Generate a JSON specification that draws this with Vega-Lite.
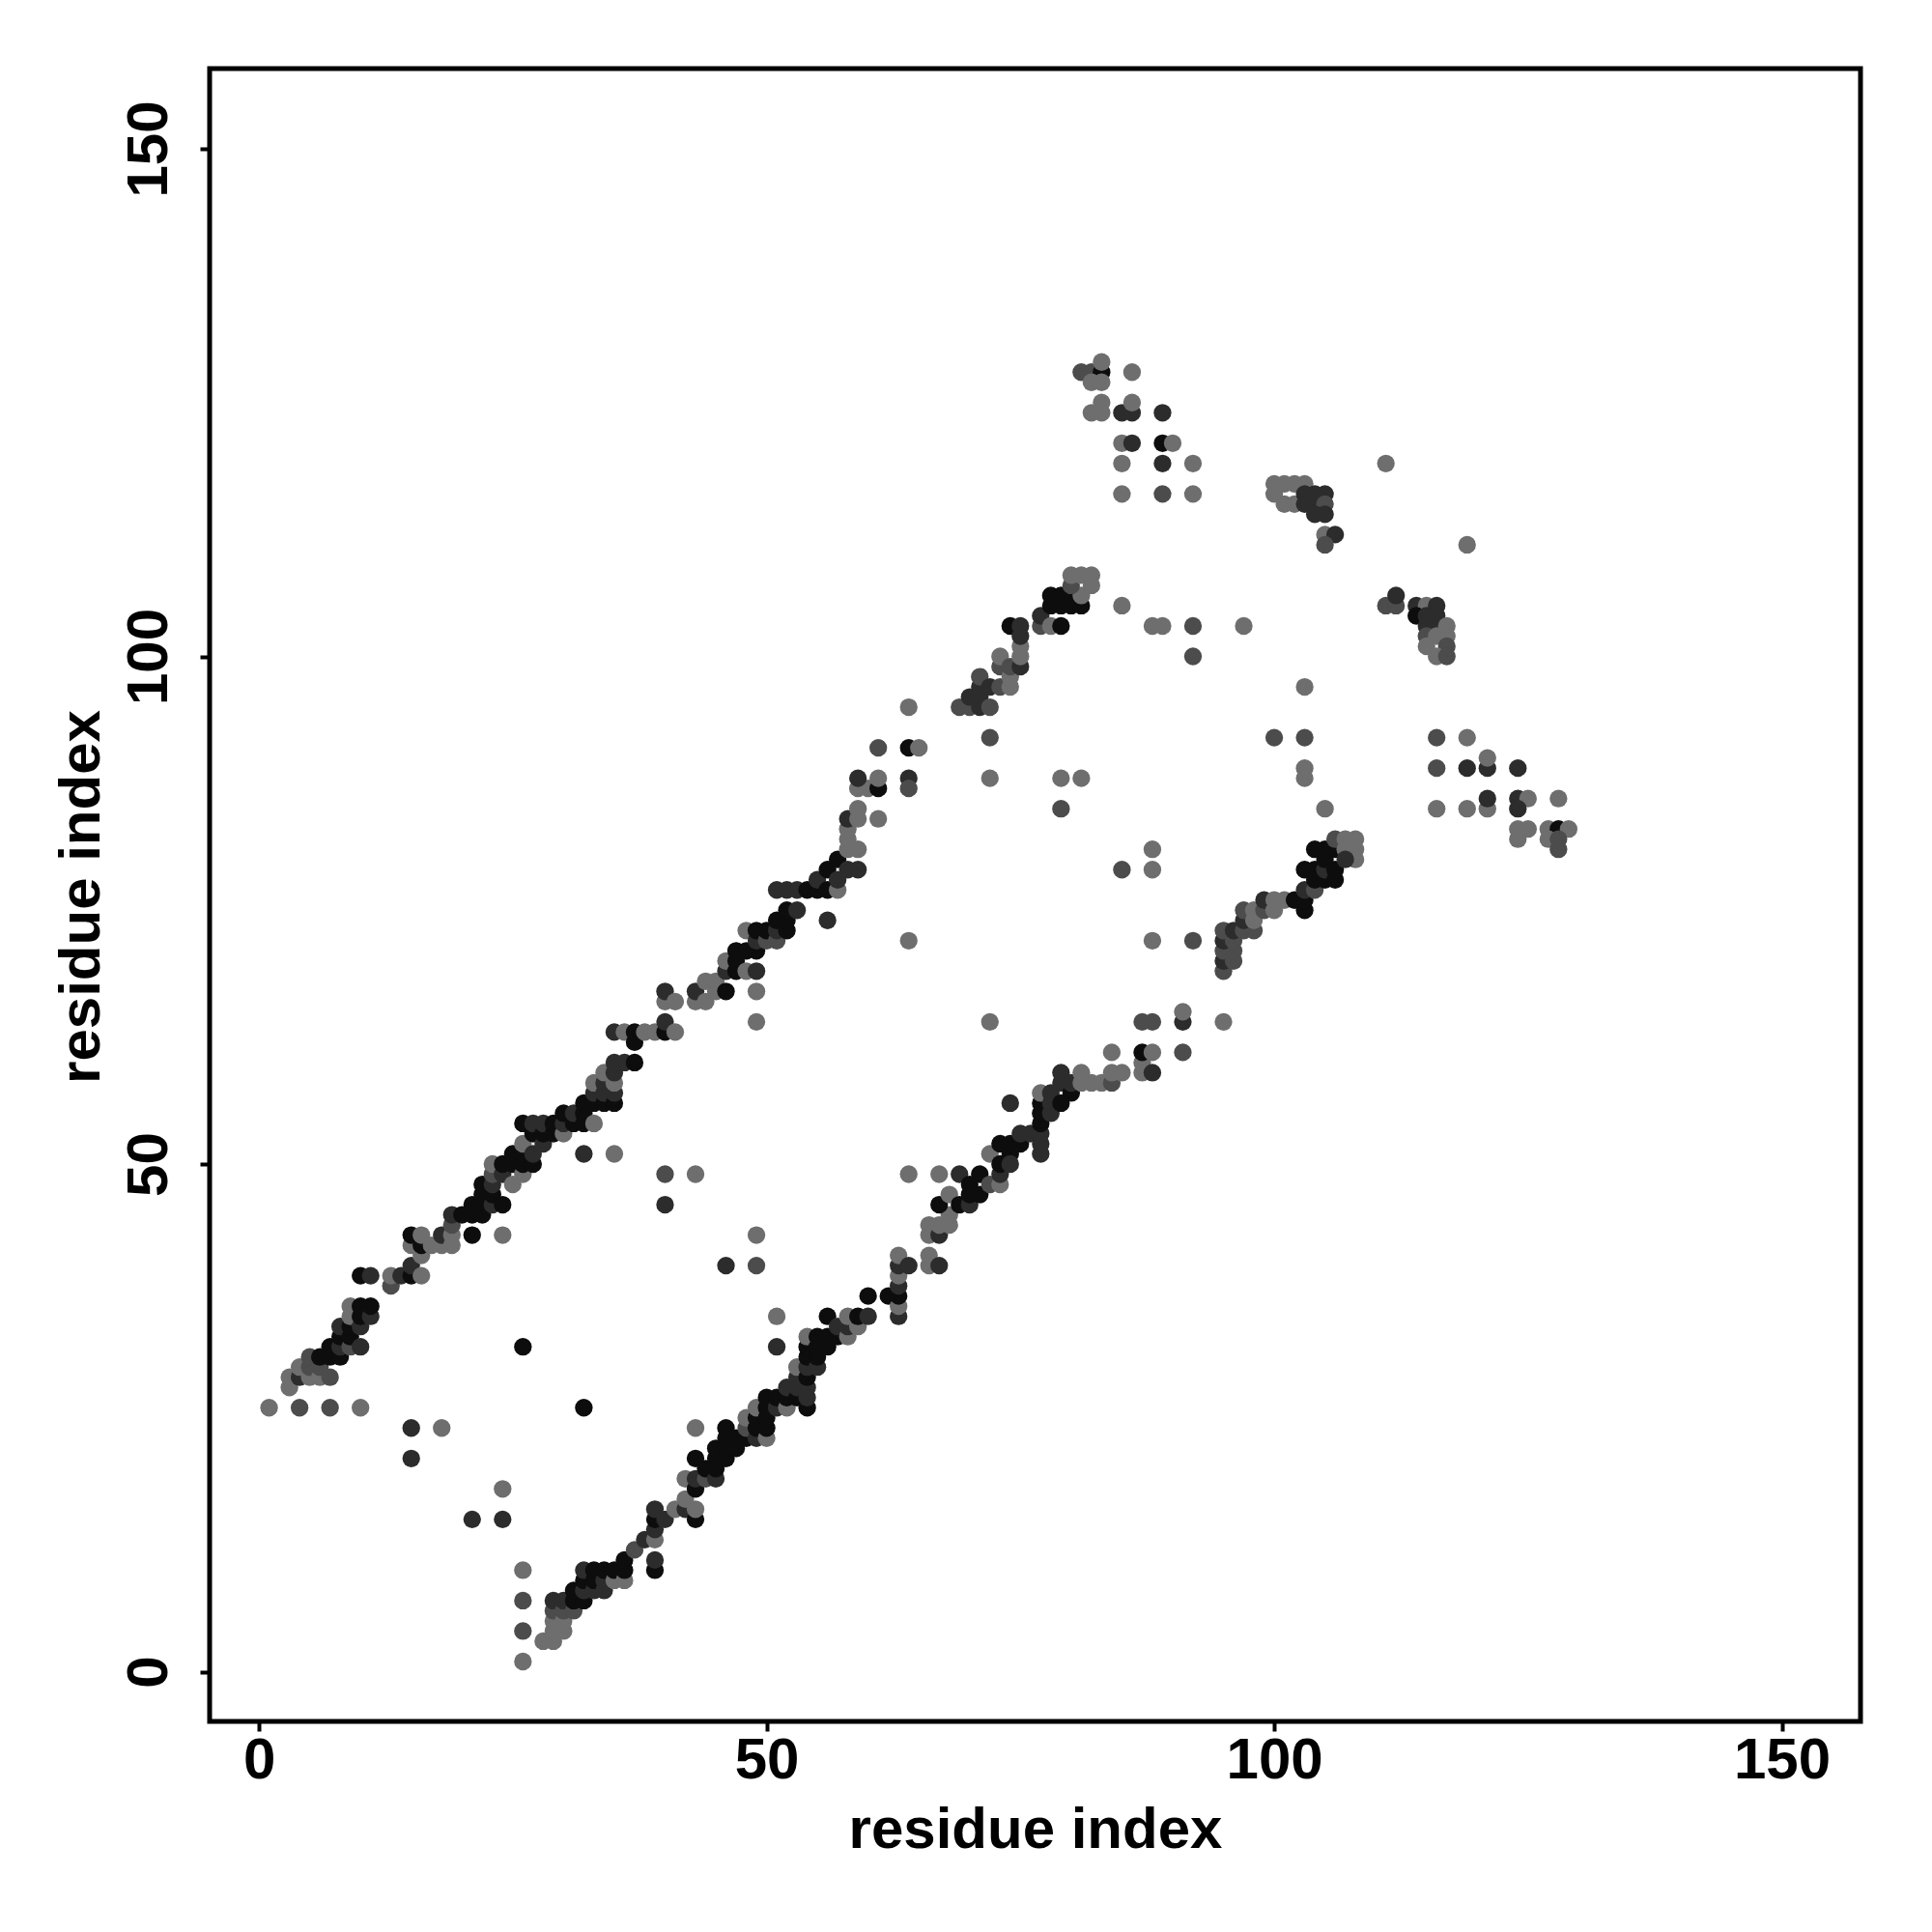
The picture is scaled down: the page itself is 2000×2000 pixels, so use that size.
{
"$schema":"https://vega.github.io/schema/vega-lite/v6.json",
"width":1709,"height":1711,
"autosize":{"type":"none"},
"padding":{"left":217,"top":71,"right":74,"bottom":218},
"background":"white",
"config":{"view":{"stroke":"black","strokeWidth":5}},
"data":{"values":[
{"i":1,"j":26,"p":0.35},{"i":4,"j":26,"p":0.55},{"i":7,"j":26,"p":0.55},{"i":10,"j":26,"p":0.35},{"i":15,"j":24,"p":0.75},{"i":18,"j":24,"p":0.35},{"i":15,"j":21,"p":0.75},{"i":24,"j":18,"p":0.35},{"i":21,"j":15,"p":0.75},{"i":24,"j":15,"p":0.75},{"i":26,"j":32,"p":0.95},{"i":32,"j":26,"p":0.95},{"i":26,"j":10,"p":0.35},{"i":26,"j":7,"p":0.55},{"i":26,"j":4,"p":0.55},{"i":26,"j":1,"p":0.35},
{"i":3,"j":28,"p":0.35},{"i":3,"j":29,"p":0.35},{"i":4,"j":29,"p":0.75},{"i":4,"j":30,"p":0.35},{"i":5,"j":29,"p":0.35},{"i":5,"j":30,"p":0.55},{"i":5,"j":31,"p":0.55},{"i":6,"j":29,"p":0.35},{"i":6,"j":30,"p":0.55},{"i":6,"j":31,"p":0.95},{"i":7,"j":29,"p":0.55},{"i":7,"j":31,"p":0.95},{"i":7,"j":32,"p":0.95},{"i":8,"j":31,"p":0.95},{"i":8,"j":32,"p":0.75},{"i":8,"j":33,"p":0.95},{"i":8,"j":34,"p":0.75},{"i":9,"j":32,"p":0.55},{"i":9,"j":33,"p":0.95},{"i":9,"j":34,"p":0.95},{"i":9,"j":35,"p":0.35},{"i":9,"j":36,"p":0.35},{"i":10,"j":32,"p":0.75},{"i":10,"j":34,"p":0.75},{"i":10,"j":35,"p":0.95},{"i":10,"j":36,"p":0.95},{"i":11,"j":35,"p":0.75},{"i":11,"j":36,"p":0.95},
{"i":10,"j":39,"p":0.95},{"i":11,"j":39,"p":0.75},{"i":13,"j":38,"p":0.55},{"i":13,"j":39,"p":0.35},{"i":14,"j":39,"p":0.75},{"i":15,"j":39,"p":0.95},{"i":15,"j":40,"p":0.75},{"i":16,"j":39,"p":0.35},
{"i":15,"j":42,"p":0.35},{"i":15,"j":43,"p":0.95},{"i":16,"j":41,"p":0.35},{"i":16,"j":42,"p":0.95},{"i":16,"j":43,"p":0.35},{"i":17,"j":42,"p":0.35},{"i":18,"j":42,"p":0.35},{"i":18,"j":43,"p":0.75},{"i":19,"j":42,"p":0.35},{"i":19,"j":43,"p":0.35},{"i":19,"j":44,"p":0.55},{"i":19,"j":45,"p":0.75},{"i":20,"j":45,"p":0.95},{"i":21,"j":45,"p":0.95},{"i":21,"j":46,"p":0.95},{"i":22,"j":45,"p":0.95},{"i":22,"j":46,"p":0.95},{"i":22,"j":47,"p":0.95},{"i":22,"j":48,"p":0.95},{"i":23,"j":46,"p":0.75},{"i":23,"j":47,"p":0.95},{"i":23,"j":48,"p":0.75},{"i":23,"j":49,"p":0.55},{"i":23,"j":50,"p":0.35},{"i":24,"j":46,"p":0.95},{"i":24,"j":49,"p":0.75},{"i":24,"j":50,"p":0.95},{"i":25,"j":48,"p":0.35},{"i":25,"j":50,"p":0.95},{"i":25,"j":51,"p":0.95},{"i":26,"j":49,"p":0.35},{"i":26,"j":50,"p":0.95},{"i":26,"j":51,"p":0.95},{"i":26,"j":52,"p":0.35},{"i":26,"j":54,"p":0.95},{"i":27,"j":50,"p":0.95},{"i":27,"j":51,"p":0.75},{"i":27,"j":53,"p":0.95},{"i":27,"j":54,"p":0.75},{"i":28,"j":52,"p":0.75},{"i":28,"j":53,"p":0.95},{"i":28,"j":54,"p":0.75},{"i":29,"j":53,"p":0.95},{"i":29,"j":54,"p":0.95},{"i":30,"j":53,"p":0.35},{"i":30,"j":54,"p":0.75},{"i":30,"j":55,"p":0.95},{"i":31,"j":54,"p":0.95},{"i":31,"j":55,"p":0.75},{"i":32,"j":54,"p":0.95},{"i":32,"j":55,"p":0.95},{"i":32,"j":56,"p":0.95},{"i":33,"j":54,"p":0.35},{"i":33,"j":56,"p":0.95},{"i":33,"j":57,"p":0.75},{"i":33,"j":58,"p":0.35},{"i":34,"j":56,"p":0.95},{"i":34,"j":57,"p":0.75},{"i":34,"j":58,"p":0.75},{"i":34,"j":59,"p":0.35},{"i":35,"j":56,"p":0.95},{"i":35,"j":57,"p":0.75},{"i":35,"j":58,"p":0.35},{"i":35,"j":59,"p":0.75},{"i":35,"j":60,"p":0.75},{"i":35,"j":63,"p":0.75},{"i":36,"j":60,"p":0.75},{"i":36,"j":63,"p":0.35},{"i":37,"j":60,"p":0.95},{"i":37,"j":62,"p":0.95},{"i":37,"j":63,"p":0.95},{"i":38,"j":63,"p":0.35},{"i":39,"j":63,"p":0.35},{"i":40,"j":63,"p":0.95},{"i":40,"j":64,"p":0.75},{"i":41,"j":63,"p":0.35},
{"i":21,"j":43,"p":0.95},{"i":24,"j":43,"p":0.35},{"i":32,"j":51,"p":0.75},{"i":35,"j":51,"p":0.35},
{"i":40,"j":66,"p":0.35},{"i":40,"j":67,"p":0.75},{"i":41,"j":66,"p":0.35},{"i":43,"j":66,"p":0.35},{"i":43,"j":67,"p":0.75},{"i":44,"j":66,"p":0.35},{"i":44,"j":68,"p":0.35},{"i":45,"j":67,"p":0.35},{"i":45,"j":68,"p":0.35},{"i":46,"j":67,"p":0.95},{"i":46,"j":69,"p":0.75},{"i":46,"j":70,"p":0.35},{"i":47,"j":69,"p":0.95},{"i":47,"j":70,"p":0.95},{"i":47,"j":71,"p":0.95},{"i":48,"j":69,"p":0.35},{"i":48,"j":71,"p":0.95},{"i":49,"j":69,"p":0.75},{"i":49,"j":71,"p":0.95},{"i":48,"j":73,"p":0.35},{"i":49,"j":72,"p":0.75},{"i":49,"j":73,"p":0.95},{"i":50,"j":72,"p":0.55},{"i":50,"j":73,"p":0.95},{"i":51,"j":72,"p":0.55},{"i":51,"j":73,"p":0.75},{"i":51,"j":74,"p":0.95},{"i":52,"j":73,"p":0.95},{"i":52,"j":74,"p":0.95},{"i":52,"j":75,"p":0.95},{"i":53,"j":75,"p":0.75},{"i":51,"j":77,"p":0.75},{"i":52,"j":77,"p":0.75},{"i":53,"j":77,"p":0.75},{"i":54,"j":77,"p":0.95},{"i":55,"j":77,"p":0.95},{"i":55,"j":78,"p":0.75},{"i":56,"j":77,"p":0.95},{"i":56,"j":79,"p":0.95},{"i":57,"j":77,"p":0.35},{"i":57,"j":78,"p":0.75},{"i":57,"j":80,"p":0.95},{"i":58,"j":79,"p":0.75},{"i":59,"j":79,"p":0.75},{"i":58,"j":81,"p":0.35},{"i":59,"j":81,"p":0.35},{"i":58,"j":82,"p":0.35},{"i":58,"j":83,"p":0.35},{"i":58,"j":84,"p":0.75},{"i":59,"j":84,"p":0.35},{"i":59,"j":85,"p":0.35},{"i":59,"j":87,"p":0.35},{"i":60,"j":87,"p":0.35},{"i":61,"j":87,"p":0.95},{"i":59,"j":88,"p":0.75},{"i":61,"j":88,"p":0.35},
{"i":49,"j":67,"p":0.35},{"i":49,"j":64,"p":0.35},{"i":43,"j":49,"p":0.35},{"i":40,"j":49,"p":0.55},{"i":40,"j":46,"p":0.75},{"i":49,"j":43,"p":0.35},{"i":46,"j":40,"p":0.75},{"i":49,"j":40,"p":0.55},{"i":64,"j":49,"p":0.35},{"i":67,"j":49,"p":0.35},
{"i":64,"j":95,"p":0.35},{"i":61,"j":91,"p":0.55},{"i":64,"j":91,"p":0.95},{"i":65,"j":91,"p":0.35},{"i":64,"j":88,"p":0.75},{"i":64,"j":87,"p":0.55},{"i":61,"j":84,"p":0.35},{"i":64,"j":72,"p":0.35},{"i":56,"j":74,"p":0.75},
{"i":69,"j":95,"p":0.55},{"i":70,"j":95,"p":0.55},{"i":70,"j":96,"p":0.75},{"i":71,"j":95,"p":0.75},{"i":71,"j":96,"p":0.75},{"i":71,"j":97,"p":0.75},{"i":71,"j":98,"p":0.55},{"i":72,"j":95,"p":0.55},{"i":72,"j":97,"p":0.75},{"i":73,"j":97,"p":0.55},{"i":73,"j":99,"p":0.55},{"i":73,"j":100,"p":0.35},{"i":74,"j":97,"p":0.35},{"i":74,"j":98,"p":0.35},{"i":74,"j":99,"p":0.55},{"i":74,"j":103,"p":0.95},{"i":75,"j":99,"p":0.75},{"i":75,"j":100,"p":0.35},{"i":75,"j":101,"p":0.35},{"i":75,"j":102,"p":0.75},{"i":75,"j":103,"p":0.75},{"i":77,"j":103,"p":0.55},{"i":77,"j":104,"p":0.75},{"i":78,"j":103,"p":0.35},{"i":79,"j":103,"p":0.95},{"i":78,"j":105,"p":0.95},{"i":79,"j":105,"p":0.95},{"i":80,"j":105,"p":0.95},{"i":81,"j":105,"p":0.95},{"i":78,"j":106,"p":0.95},{"i":79,"j":106,"p":0.95},{"i":80,"j":106,"p":0.95},{"i":81,"j":106,"p":0.35},{"i":80,"j":107,"p":0.55},{"i":80,"j":108,"p":0.35},{"i":81,"j":108,"p":0.35},{"i":82,"j":108,"p":0.35},{"i":82,"j":107,"p":0.35},
{"i":72,"j":92,"p":0.55},{"i":72,"j":88,"p":0.35},{"i":79,"j":88,"p":0.35},{"i":81,"j":88,"p":0.35},{"i":79,"j":85,"p":0.55},{"i":85,"j":105,"p":0.35},{"i":88,"j":103,"p":0.35},{"i":89,"j":103,"p":0.35},{"i":92,"j":103,"p":0.55},{"i":97,"j":103,"p":0.35},{"i":92,"j":100,"p":0.55},{"i":103,"j":97,"p":0.35},{"i":100,"j":92,"p":0.55},{"i":103,"j":92,"p":0.55},{"i":103,"j":89,"p":0.35},{"i":103,"j":88,"p":0.35},{"i":105,"j":85,"p":0.35},{"i":88,"j":81,"p":0.35},{"i":85,"j":79,"p":0.55},{"i":88,"j":79,"p":0.35},{"i":88,"j":72,"p":0.35},{"i":92,"j":72,"p":0.55},
{"i":28,"j":3,"p":0.35},{"i":29,"j":3,"p":0.35},{"i":29,"j":4,"p":0.35},{"i":29,"j":5,"p":0.35},{"i":29,"j":6,"p":0.55},{"i":29,"j":7,"p":0.75},{"i":30,"j":4,"p":0.35},{"i":30,"j":5,"p":0.35},{"i":30,"j":6,"p":0.55},{"i":30,"j":7,"p":0.75},{"i":31,"j":6,"p":0.55},{"i":31,"j":7,"p":0.95},{"i":31,"j":8,"p":0.95},{"i":32,"j":7,"p":0.95},{"i":32,"j":8,"p":0.75},{"i":32,"j":9,"p":0.95},{"i":32,"j":10,"p":0.75},{"i":33,"j":8,"p":0.75},{"i":33,"j":9,"p":0.95},{"i":33,"j":10,"p":0.95},{"i":34,"j":8,"p":0.75},{"i":34,"j":9,"p":0.75},{"i":34,"j":10,"p":0.95},{"i":35,"j":9,"p":0.35},{"i":35,"j":10,"p":0.95},{"i":36,"j":9,"p":0.35},{"i":36,"j":10,"p":0.95},{"i":36,"j":11,"p":0.95},{"i":37,"j":12,"p":0.55},{"i":38,"j":13,"p":0.75},{"i":39,"j":10,"p":0.95},{"i":39,"j":11,"p":0.75},{"i":39,"j":13,"p":0.35},{"i":39,"j":14,"p":0.75},{"i":39,"j":15,"p":0.95},{"i":39,"j":16,"p":0.75},{"i":40,"j":15,"p":0.75},{"i":41,"j":16,"p":0.35},{"i":42,"j":16,"p":0.75},{"i":42,"j":17,"p":0.35},{"i":42,"j":19,"p":0.35},{"i":43,"j":15,"p":0.95},{"i":43,"j":16,"p":0.35},{"i":43,"j":18,"p":0.95},{"i":43,"j":19,"p":0.75},{"i":43,"j":21,"p":0.95},{"i":43,"j":24,"p":0.35},{"i":44,"j":19,"p":0.55},{"i":44,"j":20,"p":0.95},{"i":45,"j":19,"p":0.75},{"i":45,"j":20,"p":0.95},{"i":45,"j":21,"p":0.95},{"i":45,"j":22,"p":0.95},{"i":46,"j":21,"p":0.95},{"i":46,"j":22,"p":0.95},{"i":46,"j":23,"p":0.95},{"i":46,"j":24,"p":0.95},{"i":47,"j":22,"p":0.95},{"i":47,"j":23,"p":0.95},{"i":48,"j":23,"p":0.95},{"i":48,"j":24,"p":0.55},{"i":48,"j":25,"p":0.35},{"i":49,"j":23,"p":0.75},{"i":49,"j":24,"p":0.95},{"i":49,"j":25,"p":0.95},{"i":49,"j":26,"p":0.35},{"i":50,"j":23,"p":0.35},{"i":50,"j":24,"p":0.95},{"i":50,"j":25,"p":0.95},{"i":50,"j":26,"p":0.95},{"i":50,"j":27,"p":0.95},{"i":51,"j":26,"p":0.75},{"i":51,"j":27,"p":0.95},{"i":52,"j":26,"p":0.35},{"i":52,"j":27,"p":0.95},{"i":52,"j":28,"p":0.75},{"i":53,"j":27,"p":0.95},{"i":53,"j":28,"p":0.75},{"i":53,"j":29,"p":0.75},{"i":53,"j":30,"p":0.35},{"i":54,"j":26,"p":0.95},{"i":54,"j":27,"p":0.75},{"i":54,"j":28,"p":0.75},{"i":54,"j":29,"p":0.95},{"i":54,"j":30,"p":0.75},{"i":54,"j":31,"p":0.95},{"i":54,"j":32,"p":0.95},{"i":54,"j":33,"p":0.35},{"i":55,"j":30,"p":0.75},{"i":55,"j":31,"p":0.95},{"i":55,"j":32,"p":0.95},{"i":55,"j":33,"p":0.95},{"i":56,"j":32,"p":0.95},{"i":56,"j":33,"p":0.95},{"i":56,"j":35,"p":0.95},{"i":57,"j":33,"p":0.95},{"i":57,"j":34,"p":0.75},{"i":58,"j":33,"p":0.35},{"i":58,"j":34,"p":0.75},{"i":58,"j":35,"p":0.35},{"i":59,"j":34,"p":0.35},{"i":59,"j":35,"p":0.95},{"i":60,"j":35,"p":0.75},{"i":60,"j":37,"p":0.95},{"i":62,"j":37,"p":0.95},{"i":63,"j":35,"p":0.75},{"i":63,"j":36,"p":0.35},{"i":63,"j":37,"p":0.95},{"i":63,"j":38,"p":0.75},{"i":63,"j":39,"p":0.35},{"i":63,"j":40,"p":0.75},{"i":63,"j":41,"p":0.35},{"i":64,"j":40,"p":0.75},{"i":51,"j":35,"p":0.35},{"i":51,"j":32,"p":0.75},
{"i":66,"j":40,"p":0.35},{"i":66,"j":41,"p":0.35},{"i":67,"j":40,"p":0.75},{"i":66,"j":43,"p":0.35},{"i":66,"j":44,"p":0.35},{"i":67,"j":43,"p":0.75},{"i":67,"j":44,"p":0.35},{"i":68,"j":44,"p":0.35},{"i":68,"j":45,"p":0.35},{"i":67,"j":46,"p":0.95},{"i":68,"j":47,"p":0.35},{"i":69,"j":46,"p":0.95},{"i":70,"j":46,"p":0.75},{"i":70,"j":47,"p":0.95},{"i":69,"j":49,"p":0.75},{"i":71,"j":49,"p":0.95},{"i":70,"j":48,"p":0.95},{"i":71,"j":47,"p":0.95},{"i":72,"j":48,"p":0.55},{"i":72,"j":51,"p":0.35},{"i":73,"j":48,"p":0.35},{"i":73,"j":49,"p":0.75},{"i":73,"j":50,"p":0.95},{"i":73,"j":52,"p":0.95},{"i":74,"j":51,"p":0.95},{"i":74,"j":52,"p":0.95},{"i":75,"j":52,"p":0.95},{"i":75,"j":53,"p":0.75},{"i":76,"j":53,"p":0.75},{"i":74,"j":50,"p":0.75},
{"i":74,"j":56,"p":0.75},{"i":77,"j":51,"p":0.75},{"i":77,"j":52,"p":0.75},{"i":77,"j":53,"p":0.75},{"i":77,"j":54,"p":0.95},{"i":77,"j":55,"p":0.95},{"i":77,"j":56,"p":0.95},{"i":77,"j":57,"p":0.35},{"i":78,"j":55,"p":0.75},{"i":78,"j":56,"p":0.75},{"i":78,"j":57,"p":0.75},{"i":79,"j":56,"p":0.95},{"i":79,"j":58,"p":0.75},{"i":79,"j":59,"p":0.75},{"i":80,"j":57,"p":0.95},{"i":80,"j":58,"p":0.75},{"i":81,"j":58,"p":0.35},{"i":81,"j":59,"p":0.35},{"i":82,"j":58,"p":0.35},{"i":83,"j":58,"p":0.35},{"i":84,"j":58,"p":0.55},{"i":84,"j":59,"p":0.35},{"i":85,"j":59,"p":0.35},{"i":84,"j":61,"p":0.35},{"i":87,"j":59,"p":0.35},{"i":87,"j":60,"p":0.35},{"i":87,"j":61,"p":0.95},{"i":88,"j":61,"p":0.35},{"i":88,"j":59,"p":0.75},{"i":87,"j":64,"p":0.55},{"i":88,"j":64,"p":0.55},{"i":91,"j":64,"p":0.75},{"i":91,"j":65,"p":0.35},{"i":91,"j":61,"p":0.55},{"i":95,"j":64,"p":0.35},{"i":72,"j":64,"p":0.35},
{"i":95,"j":69,"p":0.55},{"i":95,"j":70,"p":0.75},{"i":96,"j":70,"p":0.55},{"i":95,"j":71,"p":0.55},{"i":96,"j":71,"p":0.55},{"i":95,"j":72,"p":0.75},{"i":96,"j":72,"p":0.55},{"i":95,"j":73,"p":0.55},{"i":96,"j":73,"p":0.75},{"i":97,"j":73,"p":0.55},{"i":98,"j":73,"p":0.55},{"i":97,"j":74,"p":0.75},{"i":97,"j":75,"p":0.55},{"i":98,"j":75,"p":0.35},{"i":98,"j":74,"p":0.35},{"i":99,"j":75,"p":0.55},{"i":99,"j":76,"p":0.75},{"i":100,"j":75,"p":0.35},{"i":100,"j":76,"p":0.35},{"i":101,"j":76,"p":0.35},{"i":102,"j":76,"p":0.95},{"i":103,"j":75,"p":0.95},{"i":103,"j":76,"p":0.95},{"i":103,"j":77,"p":0.75},{"i":104,"j":77,"p":0.55},{"i":103,"j":79,"p":0.95},{"i":104,"j":79,"p":0.95},{"i":104,"j":78,"p":0.95},{"i":105,"j":78,"p":0.95},{"i":105,"j":79,"p":0.75},{"i":106,"j":78,"p":0.95},{"i":106,"j":79,"p":0.95},{"i":105,"j":80,"p":0.95},{"i":105,"j":81,"p":0.95},{"i":106,"j":81,"p":0.95},{"i":104,"j":81,"p":0.95},{"i":106,"j":82,"p":0.55},{"i":107,"j":82,"p":0.35},{"i":108,"j":82,"p":0.35},{"i":107,"j":81,"p":0.35},{"i":108,"j":81,"p":0.35},{"i":108,"j":80,"p":0.35},{"i":107,"j":80,"p":0.75},
{"i":111,"j":105,"p":0.55},{"i":112,"j":105,"p":0.55},{"i":112,"j":106,"p":0.75},{"i":114,"j":105,"p":0.75},{"i":115,"j":105,"p":0.35},{"i":116,"j":105,"p":0.75},{"i":114,"j":104,"p":0.95},{"i":115,"j":104,"p":0.75},{"i":116,"j":104,"p":0.75},{"i":115,"j":103,"p":0.75},{"i":116,"j":103,"p":0.75},{"i":117,"j":103,"p":0.35},{"i":115,"j":102,"p":0.55},{"i":116,"j":102,"p":0.35},{"i":117,"j":102,"p":0.35},{"i":115,"j":101,"p":0.35},{"i":117,"j":101,"p":0.55},{"i":116,"j":100,"p":0.35},{"i":117,"j":100,"p":0.55},
{"i":116,"j":92,"p":0.55},{"i":119,"j":92,"p":0.35},{"i":116,"j":89,"p":0.55},{"i":119,"j":89,"p":0.75},{"i":121,"j":89,"p":0.75},{"i":121,"j":90,"p":0.35},{"i":124,"j":89,"p":0.75},{"i":116,"j":85,"p":0.35},{"i":119,"j":85,"p":0.35},{"i":121,"j":85,"p":0.35},{"i":121,"j":86,"p":0.75},{"i":124,"j":86,"p":0.75},{"i":125,"j":86,"p":0.35},{"i":124,"j":85,"p":0.75},{"i":128,"j":86,"p":0.35},{"i":124,"j":83,"p":0.35},{"i":125,"j":83,"p":0.35},{"i":124,"j":82,"p":0.35},{"i":127,"j":83,"p":0.35},{"i":128,"j":83,"p":0.95},{"i":129,"j":83,"p":0.35},{"i":127,"j":82,"p":0.35},{"i":128,"j":82,"p":0.55},{"i":128,"j":81,"p":0.55},
{"i":81,"j":128,"p":0.55},{"i":82,"j":128,"p":0.55},{"i":83,"j":128,"p":0.95},{"i":83,"j":129,"p":0.35},{"i":82,"j":127,"p":0.35},{"i":83,"j":127,"p":0.35},{"i":86,"j":128,"p":0.35},{"i":82,"j":124,"p":0.35},{"i":83,"j":125,"p":0.35},{"i":83,"j":124,"p":0.35},{"i":85,"j":124,"p":0.75},{"i":86,"j":124,"p":0.75},{"i":86,"j":125,"p":0.35},{"i":89,"j":124,"p":0.75},{"i":85,"j":121,"p":0.35},{"i":86,"j":121,"p":0.75},{"i":89,"j":121,"p":0.95},{"i":90,"j":121,"p":0.35},{"i":85,"j":119,"p":0.35},{"i":89,"j":119,"p":0.75},{"i":92,"j":119,"p":0.35},{"i":85,"j":116,"p":0.35},{"i":89,"j":116,"p":0.55},{"i":92,"j":116,"p":0.35},
{"i":100,"j":117,"p":0.35},{"i":101,"j":117,"p":0.35},{"i":102,"j":117,"p":0.35},{"i":103,"j":117,"p":0.35},{"i":100,"j":116,"p":0.35},{"i":101,"j":115,"p":0.35},{"i":102,"j":115,"p":0.35},{"i":103,"j":116,"p":0.75},{"i":104,"j":116,"p":0.75},{"i":105,"j":116,"p":0.75},{"i":103,"j":115,"p":0.75},{"i":104,"j":115,"p":0.75},{"i":105,"j":115,"p":0.55},{"i":104,"j":114,"p":0.75},{"i":105,"j":114,"p":0.75},{"i":105,"j":112,"p":0.35},{"i":106,"j":112,"p":0.75},{"i":105,"j":111,"p":0.55},
{"i":111,"j":119,"p":0.35},{"i":119,"j":111,"p":0.35}
]},
"mark":{"type":"circle","size":335,"opacity":1},
"encoding":{
"x":{"field":"i","type":"quantitative","scale":{"domain":[-4.86,157.75],"nice":false,"zero":false},
"axis":{"title":"residue index","values":[0,50,100,150],"grid":false,"domain":false,"tickSize":10,"tickWidth":4,"tickColor":"black","labelFont":"Liberation Sans","labelFontWeight":"bold","labelFontSize":60,"labelColor":"black","labelBaseline":"alphabetic","labelPadding":48,"labelFlush":false,"labelOverlap":false,"titleFont":"Liberation Sans","titleFontWeight":"bold","titleFontSize":60,"titleColor":"black","titleBaseline":"alphabetic","titleAlign":"center","titleX":854.5,"titleY":130}},
"y":{"field":"j","type":"quantitative","scale":{"domain":[-4.9,157.9],"nice":false,"zero":false},
"axis":{"title":"residue index","values":[0,50,100,150],"grid":false,"domain":false,"tickSize":10,"tickWidth":4,"tickColor":"black","labelFont":"Liberation Sans","labelFontWeight":"bold","labelFontSize":60,"labelColor":"black","labelAngle":270,"labelAlign":"center","labelBaseline":"alphabetic","labelPadding":35,"labelFlush":false,"labelOverlap":false,"titleFont":"Liberation Sans","titleFontWeight":"bold","titleFontSize":60,"titleColor":"black","titleAngle":270,"titleBaseline":"alphabetic","titleAlign":"center","titleX":-115,"titleY":857}},
"color":{"field":"p","type":"quantitative","scale":{"domain":[0.3,1],"range":["#777777","#000000"]},"legend":null}
}
}
